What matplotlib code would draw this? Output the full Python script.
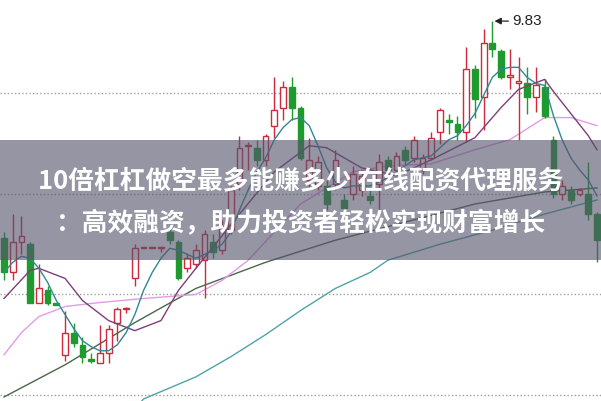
import matplotlib
matplotlib.use("Agg")
import matplotlib.pyplot as plt
from matplotlib.patches import Rectangle

# ---- candle data (open, high, low, close) ----
opens = [8.75, 8.58, 8.73, 8.72, 8.43, 8.49, 8.43, 8.17, 8.28, 8.22,
         8.15, 8.13, 8.18, 8.33, 8.40, 8.55, 8.70, 8.70, 8.70, 8.78,
         8.73, 8.60, 8.62, 8.64, 8.73, 8.69, 8.79, 9.02, 9.21, 9.20,
         9.14, 9.31, 9.40, 9.50, 9.40, 9.04, 9.01, 9.01, 9.02, 8.94,
         8.97, 8.99, 8.96, 9.02, 9.14, 9.09, 9.19, 9.15, 9.09, 9.15,
         9.28, 9.34, 9.32, 9.28, 9.59, 9.45, 9.72, 9.68, 9.55, 9.52,
         9.52, 9.45, 9.50, 9.24, 8.97, 8.99, 8.97, 8.97, 8.87]
highs = [8.78, 8.87, 8.86, 8.73, 8.62, 8.51, 8.43, 8.39, 8.33, 8.26,
         8.18, 8.32, 8.32, 8.41, 8.41, 8.72, 8.70, 8.70, 8.70, 8.82,
         8.74, 8.67, 8.72, 8.79, 8.77, 8.84, 9.01, 9.26, 9.23, 9.24,
         9.27, 9.55, 9.53, 9.55, 9.41, 9.25, 9.16, 9.04, 9.19, 8.97,
         9.11, 9.09, 8.99, 9.17, 9.16, 9.18, 9.21, 9.26, 9.17, 9.28,
         9.40, 9.37, 9.36, 9.70, 9.61, 9.79, 9.83, 9.69, 9.69, 9.65,
         9.60, 9.60, 9.54, 9.26, 9.04, 9.01, 9.00, 9.13, 8.88]
lows = [8.54, 8.54, 8.67, 8.43, 8.43, 8.42, 8.42, 8.14, 8.21, 8.13,
        8.13, 8.13, 8.13, 8.24, 8.38, 8.51, 8.70, 8.70, 8.68, 8.72,
        8.54, 8.58, 8.60, 8.45, 8.65, 8.67, 8.77, 8.99, 9.09, 9.11,
        9.11, 9.25, 9.34, 9.34, 9.14, 8.99, 8.99, 8.89, 8.99, 8.88,
        8.94, 8.96, 8.92, 8.89, 9.06, 9.07, 9.12, 9.13, 9.07, 9.14,
        9.22, 9.27, 9.24, 9.23, 9.35, 9.29, 9.65, 9.54, 9.49, 9.24,
        9.37, 9.38, 9.35, 8.95, 8.94, 8.92, 8.96, 8.84, 8.63]
closes = [8.58, 8.73, 8.76, 8.43, 8.50, 8.43, 8.42, 8.28, 8.23, 8.16,
          8.14, 8.18, 8.30, 8.40, 8.40, 8.70, 8.70, 8.70, 8.70, 8.74,
          8.55, 8.65, 8.69, 8.77, 8.68, 8.81, 8.99, 9.20, 9.21, 9.14,
          9.26, 9.39, 9.50, 9.40, 9.15, 9.14, 9.13, 8.92, 9.14, 8.90,
          9.07, 9.06, 8.94, 9.13, 9.09, 9.16, 9.14, 9.24, 9.15, 9.25,
          9.39, 9.33, 9.28, 9.59, 9.44, 9.72, 9.69, 9.55, 9.56, 9.53,
          9.45, 9.51, 9.36, 8.97, 9.01, 8.94, 8.99, 8.87, 8.74]

# ---- moving-average lines (candle index, value) ----
ma5_idx = list(range(0, 69))
ma5_val = [8.58, 8.63, 8.66, 8.65, 8.60, 8.53, 8.44, 8.37, 8.30, 8.24,
           8.21, 8.19, 8.19, 8.22, 8.28, 8.37, 8.49, 8.58, 8.65, 8.70,
           8.69, 8.67, 8.65, 8.67, 8.69, 8.72, 8.78, 8.89, 8.99, 9.08,
           9.15, 9.24, 9.30, 9.34, 9.35, 9.31, 9.21, 9.10, 9.03, 9.00,
           9.01, 9.01, 9.01, 9.03, 9.05, 9.08, 9.11, 9.14, 9.15, 9.16,
           9.20, 9.24, 9.26, 9.31, 9.37, 9.46, 9.55, 9.59, 9.60, 9.60,
           9.55, 9.52, 9.51, 9.36, 9.24, 9.15, 9.09, 9.04, 8.96]
ma10_idx = [0, 3, 4, 7, 9, 12, 15, 18, 20, 22, 27, 31, 35, 37, 41, 45, 49,
            54, 57, 59, 62, 63, 67, 68]
ma10_val = [8.45, 8.59, 8.60, 8.55, 8.44, 8.34, 8.29, 8.34, 8.49, 8.60,
            8.87, 9.08, 9.21, 9.20, 9.10, 9.06, 9.14, 9.25, 9.40, 9.49,
            9.54, 9.48, 9.26, 9.19]
ma20_idx = [0, 2, 4, 7, 11, 16, 22, 25, 28, 34, 40, 44, 49, 54, 58, 62, 65, 68]
ma20_val = [8.17, 8.28, 8.36, 8.41, 8.43, 8.45, 8.47, 8.54, 8.64, 8.92,
            9.08, 9.11, 9.12, 9.19, 9.24, 9.35, 9.35, 9.31]
ma60_idx = [0, 7, 15, 22, 30, 38, 46, 54, 62, 68]
ma60_val = [7.96, 8.12, 8.33, 8.50, 8.63, 8.74, 8.83, 8.92, 8.98, 9.00]
ma120_idx = [15, 16, 22, 26, 30, 34, 38, 42, 44, 50, 56, 62, 68]
ma120_val = [7.90, 7.95, 8.06, 8.16, 8.27, 8.39, 8.50, 8.58, 8.64, 8.72,
             8.79, 8.87, 8.94]

grid_levels = [9.47, 8.97, 8.47, 7.97]
peak_label = "9.83"
title_lines = ["10倍杠杠做空最多能赚多少 在线配资代理服务",
               "：高效融资，助力投资者轻松实现财富增长"]

RED = "#d0283c"
GREEN = "#1f9a2e"

fig = plt.figure(figsize=(6.01, 4.01), dpi=100)
ax = fig.add_axes([0, 0, 1, 1])
ax.set_xlim(-0.46, 68.46)
ax.set_ylim(7.94, 9.935)
ax.axis("off")

for g in grid_levels:
    ax.axhline(g, color="#a0a0a0", lw=1.0, ls=(0, (1, 1.6)), zorder=1)

# moving averages
ax.plot(ma120_idx, ma120_val, color="#4fa3a8", lw=1.0, zorder=2)
ax.plot(ma60_idx, ma60_val, color="#4a6848", lw=1.0, zorder=2)
ax.plot(ma20_idx, ma20_val, color="#e49be4", lw=1.0, zorder=2)
ax.plot(ma10_idx, ma10_val, color="#7e3e78", lw=1.0, zorder=4)
ax.plot(ma5_idx, ma5_val, color="#2f8896", lw=1.0, zorder=4)

# candles
w = 0.66
for i, (o, h, l, c) in enumerate(zip(opens, highs, lows, closes)):
    up = c >= o
    col = RED if up else GREEN
    ax.vlines(i, l, h, color=col, lw=1.0, zorder=3)
    bot = min(o, c)
    hgt = max(abs(c - o), 0.004)
    if up:
        ax.add_patch(Rectangle((i - w / 2, bot), w, hgt, facecolor="white",
                               edgecolor=col, lw=1.0, zorder=3.5))
    else:
        ax.add_patch(Rectangle((i - w / 2, bot), w, hgt, facecolor=col,
                               edgecolor=col, lw=1.0, zorder=3.5))

# peak annotation
imax = highs.index(max(highs))
ax.annotate(peak_label, xy=(imax + 0.25, highs[imax]), xytext=(18, 0),
            textcoords="offset pixels", ha="left", va="center",
            fontsize=11, family=["Liberation Sans", "DejaVu Sans"], color="#222222",
            arrowprops=dict(arrowstyle="-|>,head_length=0.35,head_width=0.18",
                            color="#222222", lw=0.9, shrinkA=1, shrinkB=0),
            zorder=6)

# banner overlay
ax.add_patch(Rectangle((0, 1 - 260 / 401), 1, 120 / 401, transform=ax.transAxes,
                       facecolor="#56546c", alpha=0.62, edgecolor="none", zorder=8))
ax.text(0.5, 1 - 181 / 401, title_lines[0], transform=ax.transAxes,
        ha="center", va="center", fontsize=18.5, fontweight="bold", color="white",
        family=["Noto Sans CJK SC", "DejaVu Sans"], zorder=9)
ax.text(0.5, 1 - 223 / 401, title_lines[1], transform=ax.transAxes,
        ha="center", va="center", fontsize=18.5, fontweight="bold", color="white",
        family=["Noto Sans CJK SC", "DejaVu Sans"], zorder=9)

fig.savefig("out.png", dpi=100)
